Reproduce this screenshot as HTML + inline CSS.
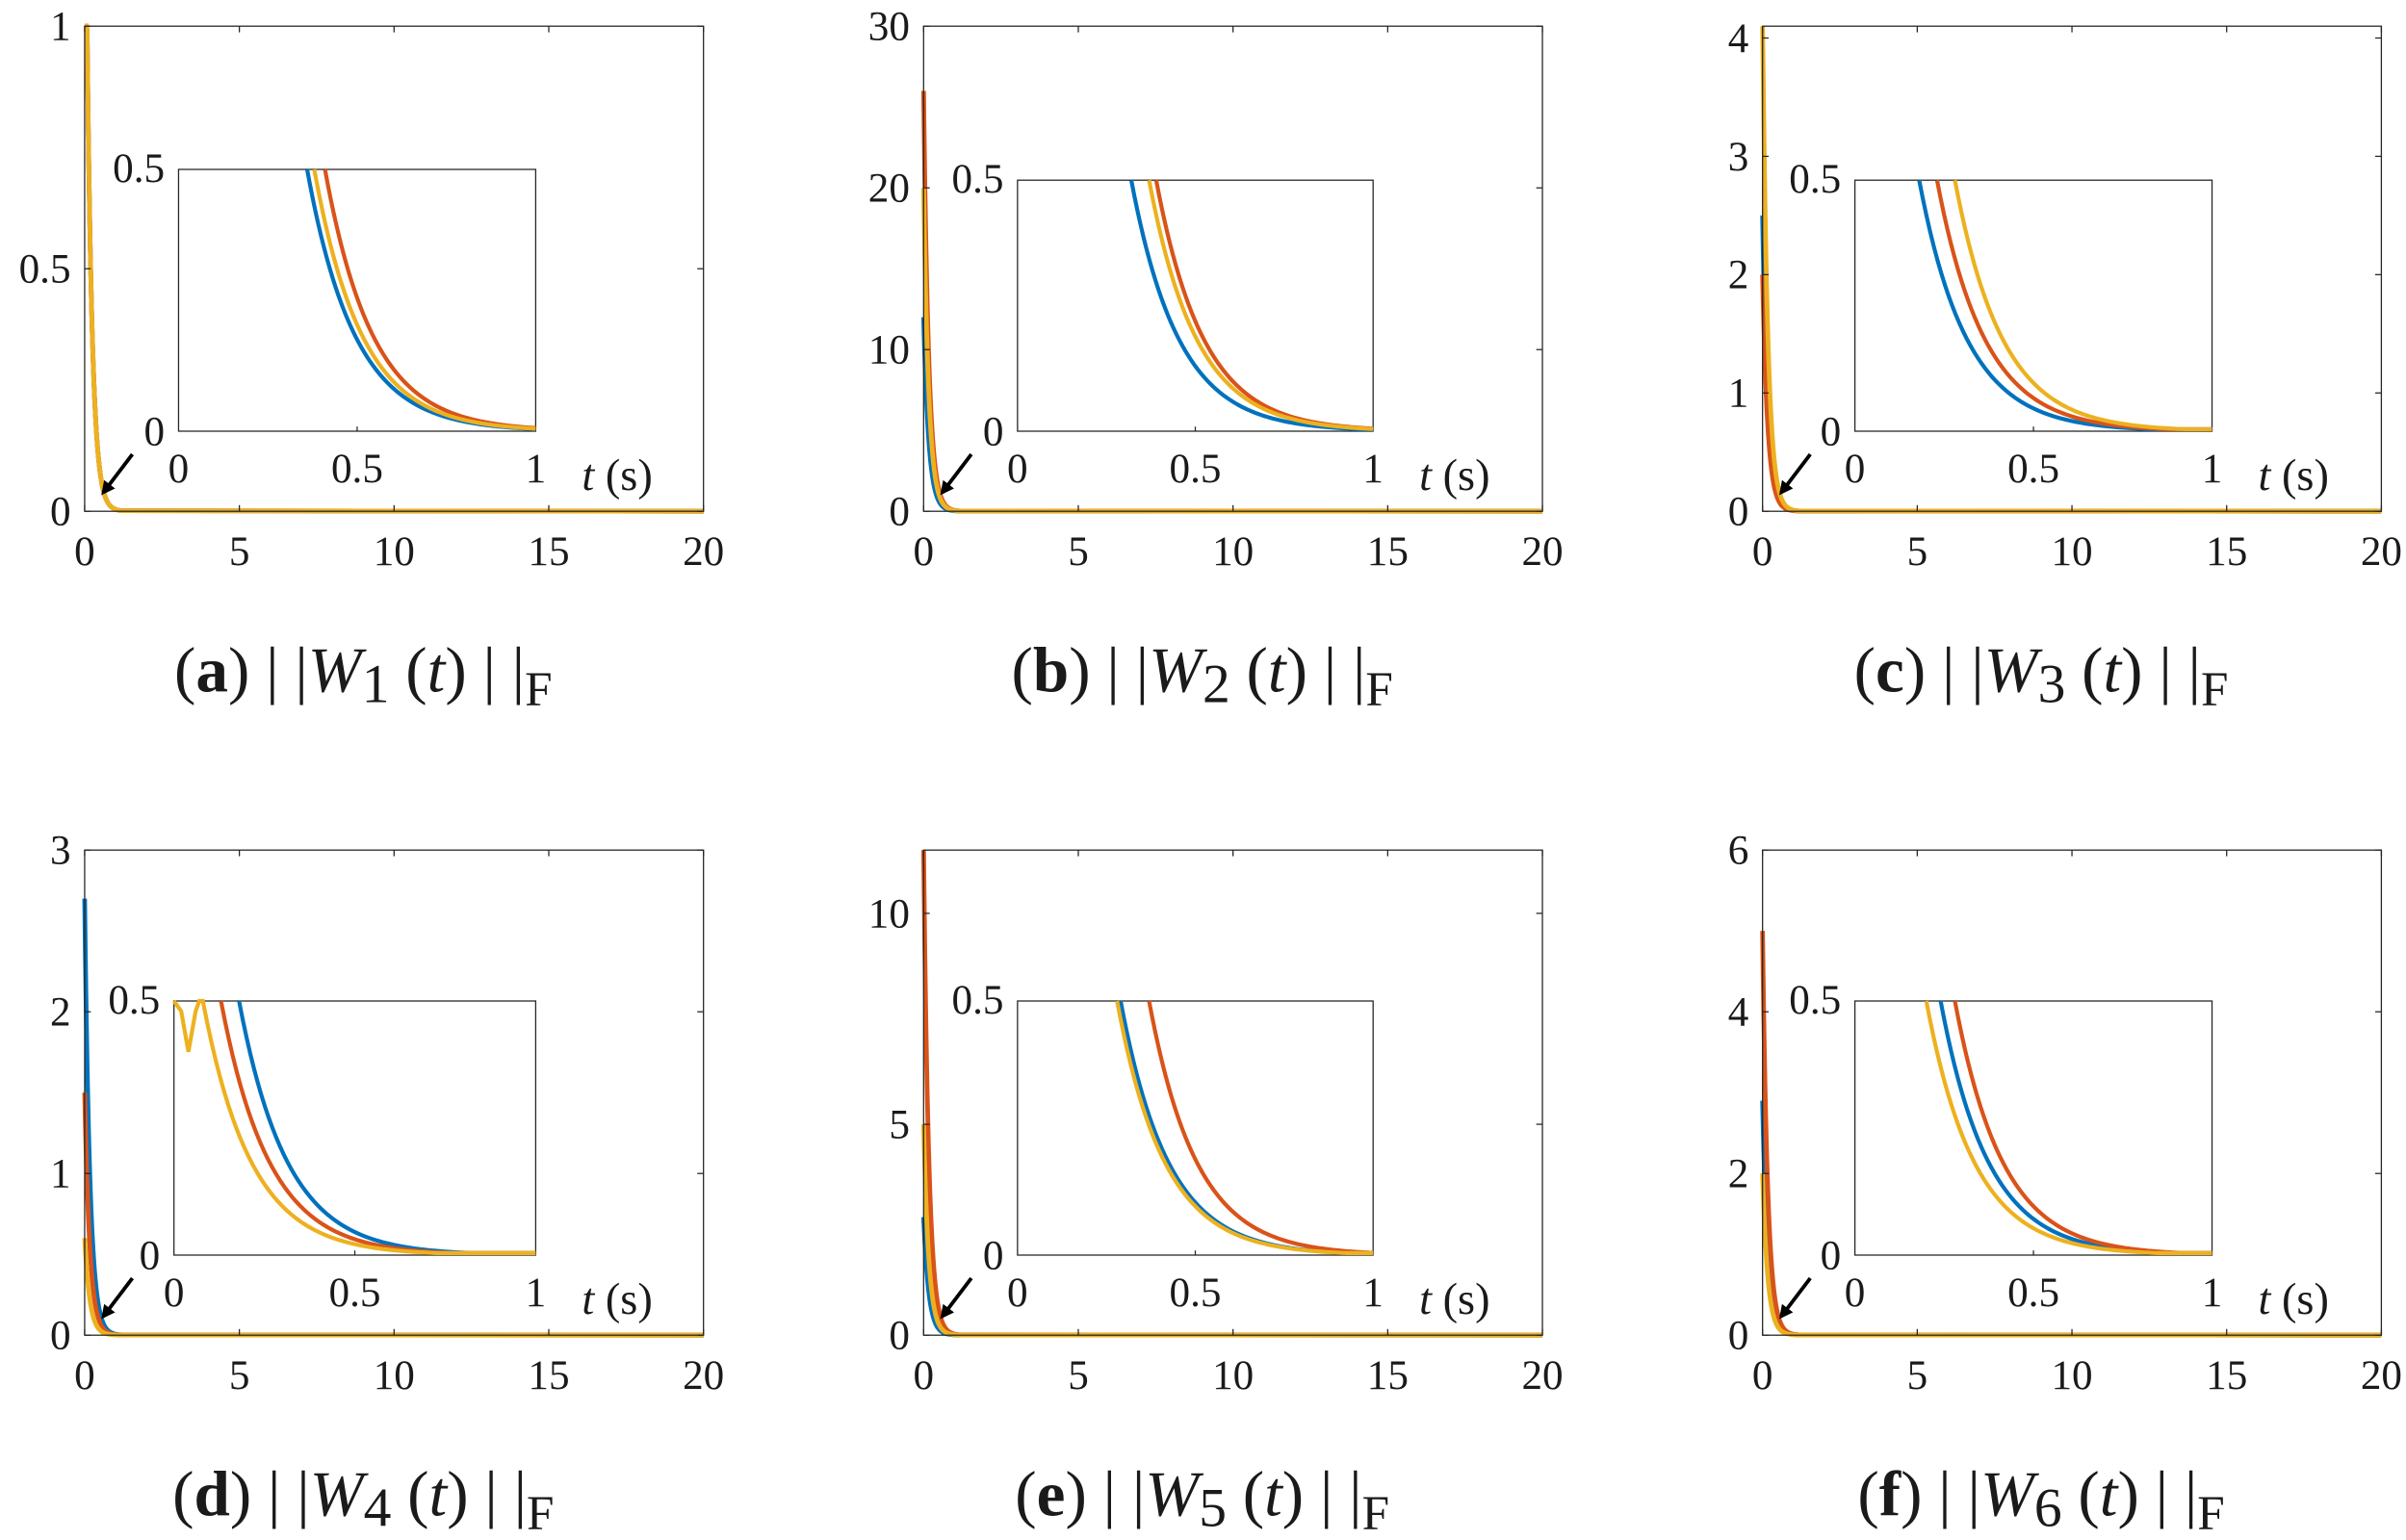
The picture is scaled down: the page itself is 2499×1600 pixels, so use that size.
<!DOCTYPE html>
<html><head><meta charset="utf-8"><style>
html,body{margin:0;padding:0;background:#fff;}
svg{display:block;}
text{font-family:"Liberation Serif","DejaVu Serif",serif;fill:#1a1a1a;}
</style></head><body>
<svg id="s" xmlns="http://www.w3.org/2000/svg" width="2499" height="1600" viewBox="0 0 1563 1000" preserveAspectRatio="none">
<defs><marker id="ah" markerWidth="9" markerHeight="9" refX="7" refY="4.5" orient="auto" markerUnits="userSpaceOnUse"><path d="M0,0 L9,4.5 L0,9 z" fill="#000"/></marker></defs>
</svg>
<script>
const S=document.getElementById('s');const NS='http://www.w3.org/2000/svg';
function el(t,a,txt){const e=document.createElementNS(NS,t);for(const k in a)e.setAttribute(k,a[k]);if(txt!==undefined)e.textContent=txt;S.appendChild(e);return e;}
const C={b:'#0072BD',r:'#D95319',y:'#EDB120'};
const panels=[
 {ax:55,ay:17,ymax:1,yt:[0,0.5,1],yl:['0','0.5','1'],ins:[116,110,232,170],sp:{b:1.6,r:1.6,y:1.6},t0:{b:0.36,y:0.38,r:0.41},cap:'a',n:1},
 {ax:600,ay:17,ymax:30,yt:[0,10,20,30],yl:['0','10','20','30'],ins:[661,117,231,163],sp:{b:12,r:26,y:20},t0:{b:0.32,y:0.37,r:0.39},cap:'b',n:2},
 {ax:1145,ay:17,ymax:4.1,yt:[0,1,2,3,4],yl:['0','1','2','3','4'],ins:[1205,117,232,163],sp:{b:2.5,r:2.0,y:4.2},t0:{b:0.18,r:0.23,y:0.28},cap:'c',n:3},
 {ax:55,ay:552,ymax:3,yt:[0,1,2,3],yl:['0','1','2','3'],ins:[113,650,235,165],sp:{b:2.7,r:1.5,y:0.6},t0:{y:0.08,r:0.13,b:0.18},cap:'d',n:4},
 {ax:600,ay:552,ymax:11.5,yt:[0,5,10],yl:['0','5','10'],ins:[661,650,231,165],sp:{b:2.8,r:11.6,y:5},t0:{y:0.28,b:0.29,r:0.37},cap:'e',n:5},
 {ax:1145,ay:552,ymax:6,yt:[0,2,4,6],yl:['0','2','4','6'],ins:[1205,650,232,165],sp:{b:2.9,r:5,y:2},t0:{y:0.2,b:0.24,r:0.28},cap:'f',n:6}
];
const W=402,H=315;
panels.forEach(p=>{
 const X=t=>p.ax+t/20*W, Y=v=>p.ay+H-v/p.ymax*H;
 ['b','r','y'].forEach(c=>{let d='';for(let i=0;i<=60;i++){let t=i*0.02;let v=p.sp[c]*Math.exp(-t*6);if(v>p.ymax)v=p.ymax;d+=(i?'L':'M')+X(t).toFixed(2)+','+Y(v).toFixed(2);}d+='L'+X(20)+','+Y(0);el('path',{d:d,fill:'none',stroke:C[c],'stroke-width':3});});
 el('rect',{x:p.ax,y:p.ay,width:W,height:H,fill:'none',stroke:'#262626','stroke-width':0.8});
 for(let t=0;t<=20;t+=5){el('line',{x1:X(t),x2:X(t),y1:p.ay+H,y2:p.ay+H-4,stroke:'#262626','stroke-width':0.8});el('line',{x1:X(t),x2:X(t),y1:p.ay,y2:p.ay+4,stroke:'#262626','stroke-width':0.8});el('text',{x:X(t),y:p.ay+H+35,'font-size':27,'text-anchor':'middle'},String(t));}
 p.yt.forEach((v,i)=>{el('line',{x1:p.ax,x2:p.ax+4,y1:Y(v),y2:Y(v),stroke:'#262626','stroke-width':0.8});el('line',{x1:p.ax+W,x2:p.ax+W-4,y1:Y(v),y2:Y(v),stroke:'#262626','stroke-width':0.8});el('text',{x:p.ax-9,y:Y(v)+9,'font-size':27,'text-anchor':'end'},p.yl[i]);});
 const [ix,iy,iw,ih]=p.ins;const IX=t=>ix+t*iw, IY=v=>iy+ih-v/0.5*ih;
 el('rect',{x:ix,y:iy,width:iw,height:ih,fill:'#fff',stroke:'#262626','stroke-width':0.8});
 ['b','r','y'].forEach(c=>{let d='';const t0=p.t0[c];
  if(p.cap==='d'&&c==='y'){d='M'+IX(0)+','+IY(0.5)+'L'+IX(0.02)+','+IY(0.48)+'L'+IX(0.04)+','+IY(0.4)+'L'+IX(0.06)+','+IY(0.48)+'L'+IX(0.07)+','+IY(0.5);}
  for(let i=0;i<=80;i++){let t=t0+(1-t0)*i/80;let v=0.5*Math.exp(-(t-t0)*7.5);v=Math.max(v,0.004);d+=(d?'L':'M')+IX(t).toFixed(2)+','+IY(v).toFixed(2);}
  el('path',{d:d,fill:'none',stroke:C[c],'stroke-width':2.6});});
 el('line',{x1:IX(0.5),x2:IX(0.5),y1:iy+ih,y2:iy+ih-3,stroke:'#262626','stroke-width':0.8});
 el('text',{x:ix-9,y:iy+8,'font-size':27,'text-anchor':'end'},'0.5');
 el('text',{x:ix-9,y:iy+ih+9,'font-size':27,'text-anchor':'end'},'0');
 [['0',0],['0.5',0.5],['1',1]].forEach(a=>el('text',{x:IX(a[1]),y:iy+ih+33,'font-size':27,'text-anchor':'middle'},a[0]));
 const tt=el('text',{x:ix+iw+30,y:iy+ih+38,'font-size':29});tt.innerHTML='<tspan font-style="italic">t</tspan> (s)';
 el('line',{x1:p.ax+31,y1:p.ay+H-37,x2:p.ax+12,y2:p.ay+H-12,stroke:'#000','stroke-width':2.4,'marker-end':'url(#ah)'});
 const cx=p.ax+W/2-20;const cap=el('text',{x:cx,y:p.ay+H+117,'font-size':42,'text-anchor':'middle'});
 cap.innerHTML='(<tspan font-weight="bold">'+p.cap+'</tspan>) | |<tspan font-style="italic">W</tspan><tspan font-size="36" dy="7">'+p.n+'</tspan><tspan dy="-7"> (</tspan><tspan font-style="italic">t</tspan>) | |<tspan font-size="32" dy="9">F</tspan>';
});
</script>
</body></html>
